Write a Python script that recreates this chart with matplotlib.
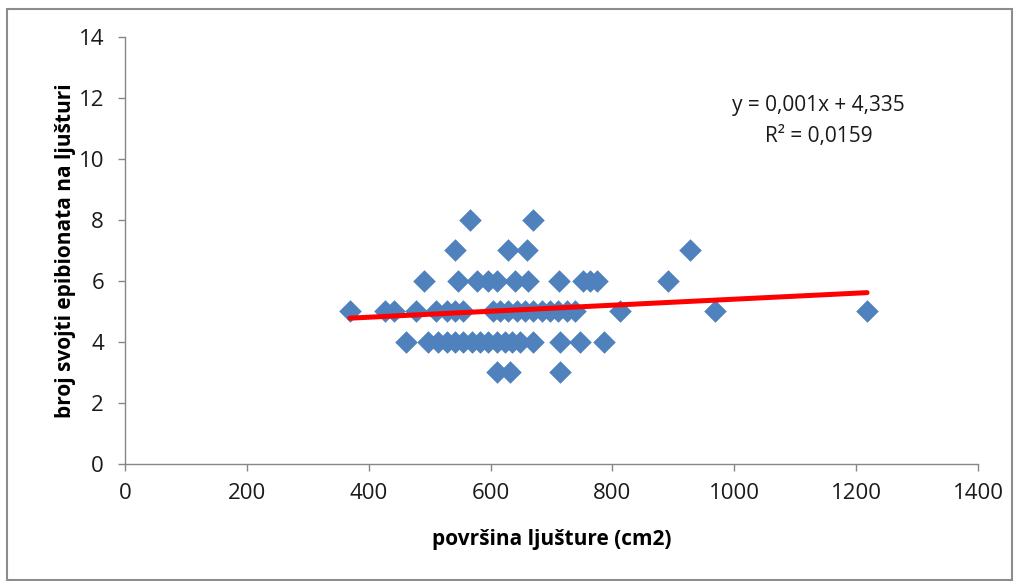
import matplotlib
matplotlib.use("Agg")
import matplotlib.pyplot as plt
from matplotlib.patches import Rectangle
import numpy as np

# površina ljušture (cm2) and broj svojti epibionata, grouped by row value
x_y3 = [611, 632, 714]
x_y4 = [461, 498, 514, 529, 542, 555, 570, 583, 596, 611, 624, 635, 649,
        670, 714, 747, 787]
x_y5 = [369, 427, 442, 478, 511, 529, 542, 555, 604, 616, 629, 644, 657,
        670, 685, 698, 711, 726, 739, 813, 969, 1218]
x_y6 = [491, 547, 578, 596, 611, 640, 662, 713, 752, 764, 775, 892]
x_y7 = [542, 629, 660, 928]
x_y8 = [566, 670]

groups = [(3, x_y3), (4, x_y4), (5, x_y5), (6, x_y6), (7, x_y7), (8, x_y8)]
xs = np.concatenate([np.array(v, dtype=float) for _, v in groups])
ys = np.concatenate([np.full(len(v), float(k)) for k, v in groups])

x_ticks = [0, 200, 400, 600, 800, 1000, 1200, 1400]
y_ticks = [0, 2, 4, 6, 8, 10, 12, 14]

eq_line = "y = 0,001x + 4,335"
r2_line = "R² = 0,0159"

plt.rcParams["font.family"] = ["Open Sans", "DejaVu Sans"]

fig = plt.figure(figsize=(10.2, 5.81), dpi=100)
fig.patch.set_facecolor("white")
fig.patches.append(Rectangle((7 / 1020, 1 / 581), 1005 / 1020, 571 / 581,
                             transform=fig.transFigure, fill=False,
                             edgecolor="#8c8c8c", linewidth=1.5))

ax = fig.add_axes([0.1225, 0.2014, 0.8363, 0.7349])
ax.scatter(xs, ys, marker="D", s=11.5 ** 2, color="#4f81bd", linewidths=0,
           zorder=3)

# linear trendline
k, b = np.polyfit(xs, ys, 1)
xl = np.array([xs.min(), xs.max()])
ax.plot(xl, k * xl + b, color="#ff0000", linewidth=3.6, zorder=4,
        solid_capstyle="round")

ax.set_xlim(0, 1400)
ax.set_ylim(0, 14)
ax.set_xticks(x_ticks)
ax.set_yticks(y_ticks)
ax.tick_params(axis="both", direction="out", length=5, width=1,
               color="#868686", labelsize=16, labelcolor="#1a1a1a")
ax.tick_params(axis="x", pad=9)
ax.tick_params(axis="y", pad=10)
for s in ["top", "right"]:
    ax.spines[s].set_visible(False)
for s in ["left", "bottom"]:
    ax.spines[s].set_color("#868686")
    ax.spines[s].set_linewidth(1)

ax.set_xlabel("površina ljušture (cm2)", fontsize=15, fontweight="bold",
              labelpad=18)
ax.set_ylabel("broj svojti epibionata na ljušturi", fontsize=15,
              fontweight="bold", labelpad=2)

ax.text(1138, 11.75, eq_line, fontsize=15, ha="center", va="center",
        color="#1a1a1a")
ax.text(1138, 10.75, r2_line, fontsize=15, ha="center", va="center",
        color="#1a1a1a")

fig.savefig("out.png", dpi=100, facecolor=fig.get_facecolor())
plt.close(fig)
